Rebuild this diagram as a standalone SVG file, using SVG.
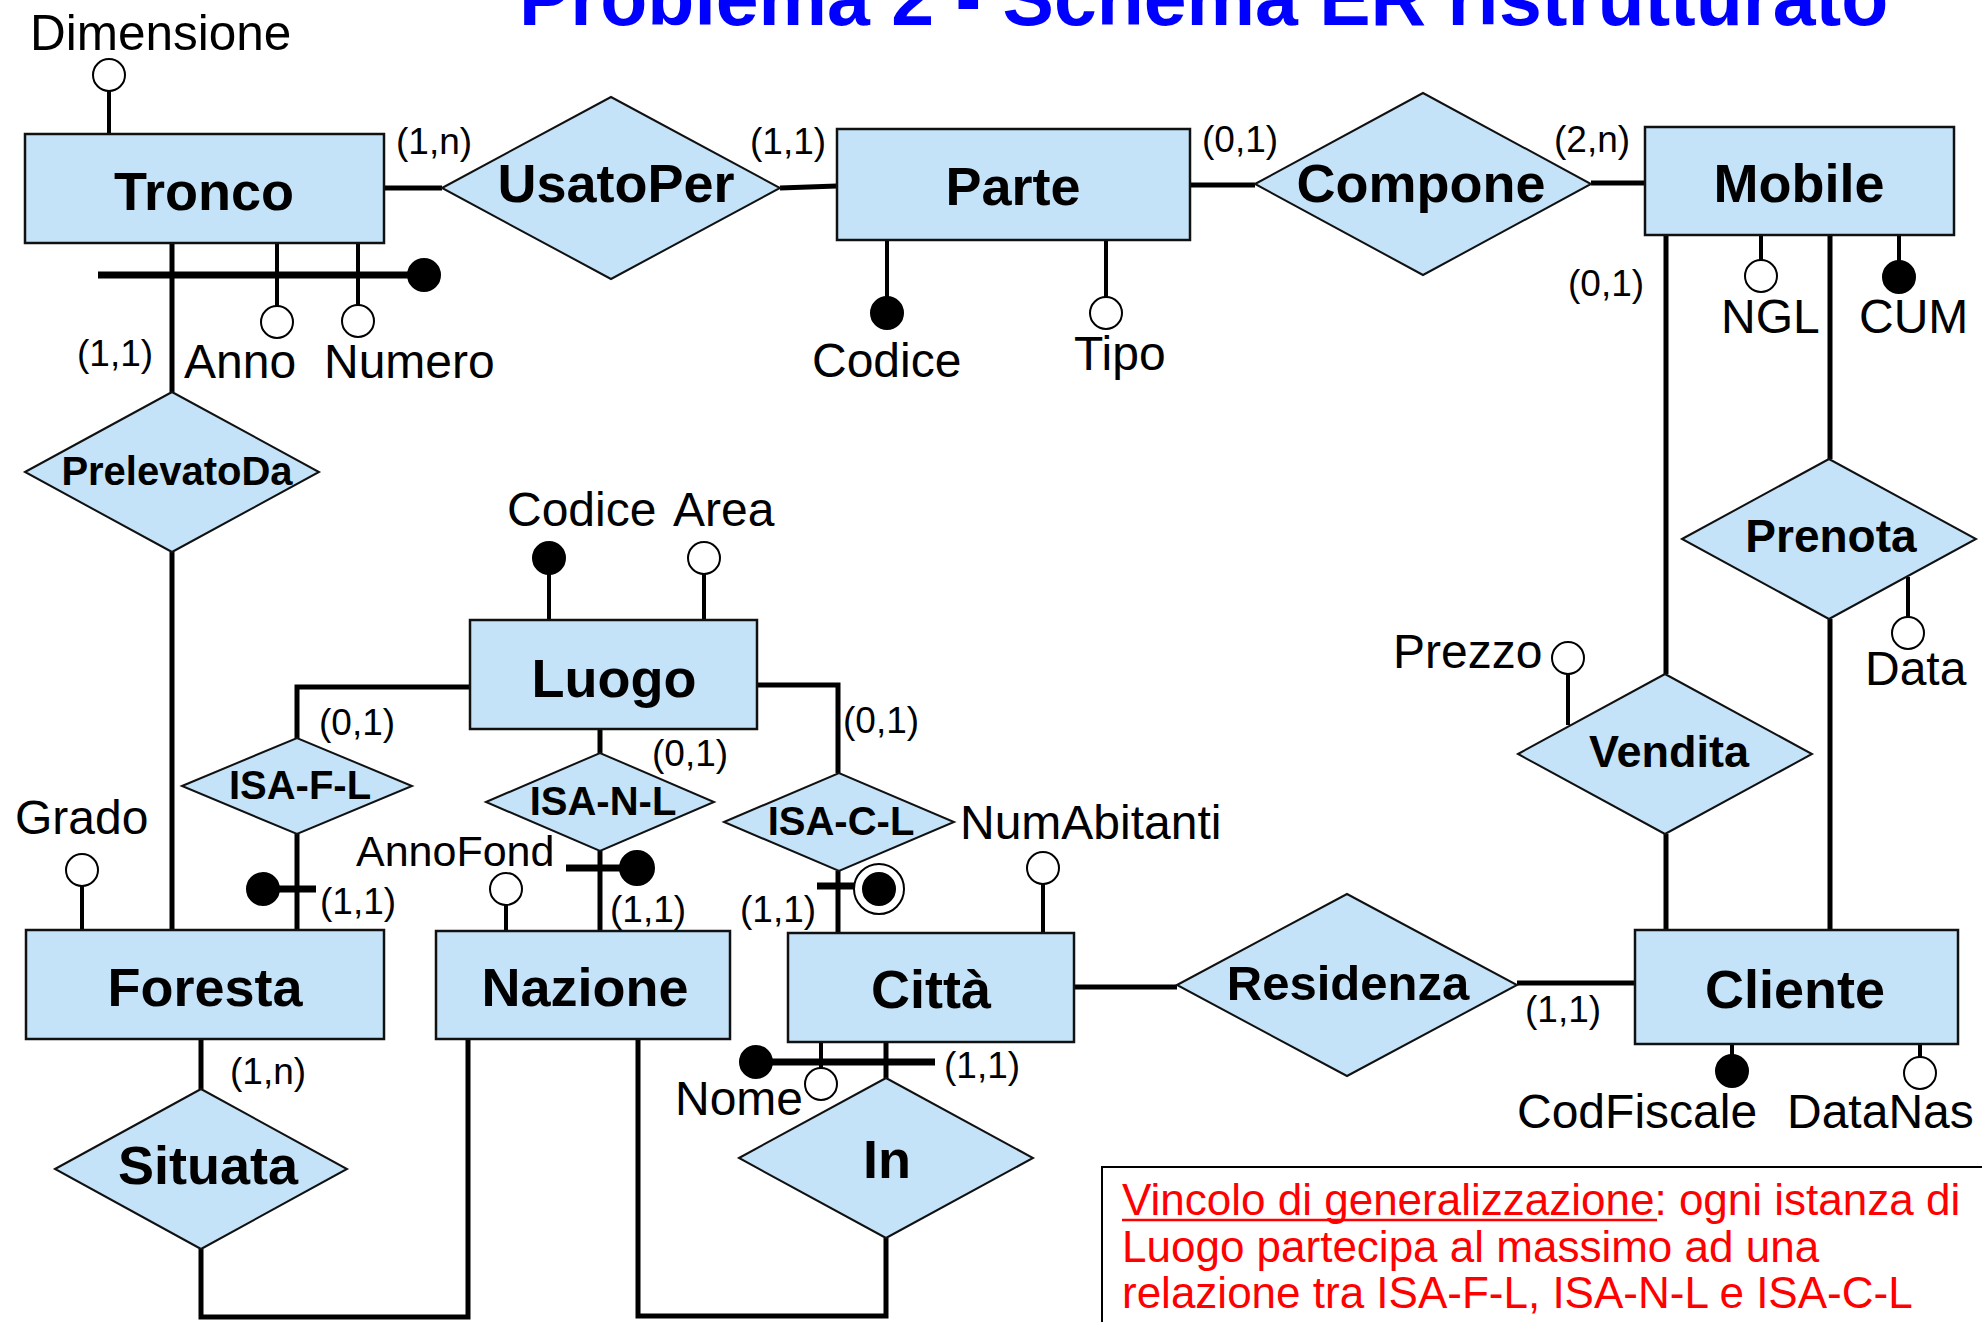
<svg xmlns="http://www.w3.org/2000/svg" width="1982" height="1322" viewBox="0 0 1982 1322">
<style>
.ent{fill:#C5E3F8;stroke:#111;stroke-width:2.5}
.rel{fill:#C5E3F8;stroke:#111;stroke-width:2}
.name{font-family:"Liberation Sans",Arial,sans-serif;font-weight:bold;font-size:54px;text-anchor:middle;fill:#000}
.att{font-family:"Liberation Sans",Arial,sans-serif;font-size:48px;fill:#000}
.card{font-family:"Liberation Sans",Arial,sans-serif;font-size:37px;fill:#000}
.ln{stroke:#000;stroke-width:5;fill:none}
.al{stroke:#000;stroke-width:4;fill:none}
.bar{stroke:#000;stroke-width:7;fill:none}
.oc{fill:#fff;stroke:#000;stroke-width:2}
.fc{fill:#000;stroke:#000;stroke-width:2}
.note{font-family:"Liberation Sans",Arial,sans-serif;font-size:44px;fill:#FF0000}
</style>
<rect width="1982" height="1322" fill="#fff"/>
<text x="519" y="25" font-family="Liberation Sans, Arial, sans-serif" font-weight="bold" font-size="77" fill="#0000FF">Problema 2 - Schema ER ristrutturato</text>

<g id="connectors">
<path class="ln" d="M383 188 H442"/>
<path class="ln" d="M780 188 L837 186"/>
<path class="ln" d="M1190 185 H1255"/>
<path class="ln" d="M1591 183 H1645"/>
<path class="ln" d="M172 243 V392"/>
<path class="ln" d="M172 552 V930"/>
<path class="ln" d="M470 687 H297 V738"/>
<path class="ln" d="M600 729 V753"/>
<path class="ln" d="M757 685 H838 V773"/>
<path class="ln" d="M297 834 V930"/>
<path class="ln" d="M600 851 V931"/>
<path class="ln" d="M838 871 V933"/>
<path class="ln" d="M201 1039 V1089"/>
<path class="ln" d="M201 1249 V1317 H468 V1039"/>
<path class="ln" d="M638 1039 V1316 H886 V1238"/>
<path class="ln" d="M886 1042 V1078"/>
<path class="ln" d="M1074 987 H1177"/>
<path class="ln" d="M1517 983 H1635"/>
<path class="ln" d="M1666 235 V674"/>
<path class="ln" d="M1666 834 V930"/>
<path class="ln" d="M1830 235 V459"/>
<path class="ln" d="M1830 619 V930"/>
</g>

<g id="attributes">
<path class="al" d="M109 91 V134"/><circle class="oc" cx="109" cy="75" r="16"/>
<path class="al" d="M277 243 V306"/><circle class="oc" cx="277" cy="322" r="16"/>
<path class="al" d="M358 243 V305"/><circle class="oc" cx="358" cy="321" r="16"/>
<path class="bar" d="M98 275 H410"/><circle class="fc" cx="424" cy="275" r="16"/>
<path class="al" d="M887 240 V297"/><circle class="fc" cx="887" cy="313" r="16"/>
<path class="al" d="M1106 240 V297"/><circle class="oc" cx="1106" cy="313" r="16"/>
<path class="al" d="M1761 235 V260"/><circle class="oc" cx="1761" cy="276" r="16"/>
<path class="al" d="M1899 235 V261"/><circle class="fc" cx="1899" cy="277" r="16"/>
<path class="al" d="M549 574 V620"/><circle class="fc" cx="549" cy="558" r="16"/>
<path class="al" d="M704 574 V620"/><circle class="oc" cx="704" cy="558" r="16"/>
<path class="al" d="M82 886 V930"/><circle class="oc" cx="82" cy="870" r="16"/>
<path class="bar" d="M263 889 H316"/><circle class="fc" cx="263" cy="889" r="16"/>
<path class="al" d="M506 905 V931"/><circle class="oc" cx="506" cy="889" r="16"/>
<path class="bar" d="M566 868 H637"/><circle class="fc" cx="637" cy="868" r="17"/>
<path class="bar" d="M817 886 H879"/><circle class="oc" cx="879" cy="889" r="25"/><circle class="fc" cx="879" cy="889" r="16"/>
<path class="al" d="M1043 884 V933"/><circle class="oc" cx="1043" cy="868" r="16"/>
<path class="bar" d="M756 1062 H935"/><circle class="fc" cx="756" cy="1062" r="16"/>
<path class="al" d="M821 1042 V1068"/><circle class="oc" cx="821" cy="1084" r="16"/>
<path class="al" d="M1732 1044 V1056"/><circle class="fc" cx="1732" cy="1071" r="16"/>
<path class="al" d="M1920 1044 V1057"/><circle class="oc" cx="1920" cy="1073" r="16"/>
<path class="al" d="M1568 674 V725"/><circle class="oc" cx="1568" cy="658" r="16"/>
<path class="al" d="M1908 577 V617"/><circle class="oc" cx="1908" cy="633" r="16"/>
</g>

<g id="Tronco"><rect class="ent" x="25" y="134" width="359" height="109"/><text class="name" x="204" y="210">Tronco</text></g>
<g id="Parte"><rect class="ent" x="837" y="129" width="353" height="111"/><text class="name" x="1013" y="205">Parte</text></g>
<g id="Mobile"><rect class="ent" x="1645" y="127" width="309" height="108"/><text class="name" x="1799" y="202">Mobile</text></g>
<g id="Luogo"><rect class="ent" x="470" y="620" width="287" height="109"/><text class="name" x="614" y="697">Luogo</text></g>
<g id="Foresta"><rect class="ent" x="26" y="930" width="358" height="109"/><text class="name" x="205" y="1006">Foresta</text></g>
<g id="Nazione"><rect class="ent" x="436" y="931" width="294" height="108"/><text class="name" x="585" y="1006">Nazione</text></g>
<g id="Citta"><rect class="ent" x="788" y="933" width="286" height="109"/><text class="name" x="931" y="1008">Città</text></g>
<g id="Cliente"><rect class="ent" x="1635" y="930" width="323" height="114"/><text class="name" x="1795" y="1008">Cliente</text></g>

<g id="UsatoPer"><polygon class="rel" points="442,188 611,97 780,188 611,279"/><text class="name" x="616" y="202">UsatoPer</text></g>
<g id="Compone"><polygon class="rel" points="1255,184 1423,93 1591,184 1423,275"/><text class="name" x="1421" y="202">Compone</text></g>
<g id="PrelevatoDa"><polygon class="rel" points="25,472 172,392 319,472 172,552"/><text class="name" x="177" y="485" style="font-size:40px">PrelevatoDa</text></g>
<g id="ISA-F-L"><polygon class="rel" points="182,786 297,738 412,786 297,834"/><text class="name" x="300" y="799" style="font-size:40px">ISA-F-L</text></g>
<g id="ISA-N-L"><polygon class="rel" points="486,802 600,753 714,802 600,851"/><text class="name" x="603" y="815" style="font-size:40px">ISA-N-L</text></g>
<g id="ISA-C-L"><polygon class="rel" points="724,822 839,773 954,822 839,871"/><text class="name" x="841" y="835" style="font-size:40px">ISA-C-L</text></g>
<g id="Situata"><polygon class="rel" points="55,1169 201,1089 347,1169 201,1249"/><text class="name" x="208" y="1184">Situata</text></g>
<g id="In"><polygon class="rel" points="739,1158 886,1078 1033,1158 886,1238"/><text class="name" x="887" y="1178">In</text></g>
<g id="Residenza"><polygon class="rel" points="1177,985 1347,894 1517,985 1347,1076"/><text class="name" x="1348" y="1000" style="font-size:49px">Residenza</text></g>
<g id="Prenota"><polygon class="rel" points="1682,539 1829,459 1976,539 1829,619"/><text class="name" x="1831" y="552" style="font-size:46px">Prenota</text></g>
<g id="Vendita"><polygon class="rel" points="1518,754 1665,674 1812,754 1665,834"/><text class="name" x="1669" y="767" style="font-size:45px">Vendita</text></g>

<g id="attribute-labels">
<text class="att" x="30" y="50" style="font-size:49.5px">Dimensione</text>
<text class="att" x="184" y="378">Anno</text>
<text class="att" x="324" y="378">Numero</text>
<text class="att" x="812" y="377">Codice</text>
<text class="att" x="1074" y="370">Tipo</text>
<text class="att" x="1721" y="333">NGL</text>
<text class="att" x="1859" y="333">CUM</text>
<text class="att" x="507" y="526">Codice</text>
<text class="att" x="673" y="526">Area</text>
<text class="att" x="15" y="834">Grado</text>
<text class="att" x="356" y="866" style="font-size:43px">AnnoFond</text>
<text class="att" x="960" y="839">NumAbitanti</text>
<text class="att" x="675" y="1115">Nome</text>
<text class="att" x="1517" y="1128">CodFiscale</text>
<text class="att" x="1787" y="1128">DataNas</text>
<text class="att" x="1393" y="668">Prezzo</text>
<text class="att" x="1865" y="685">Data</text>
</g>

<g id="cardinalities">
<text class="card" x="396" y="154">(1,n)</text>
<text class="card" x="750" y="154">(1,1)</text>
<text class="card" x="1202" y="152">(0,1)</text>
<text class="card" x="1554" y="152">(2,n)</text>
<text class="card" x="1568" y="296">(0,1)</text>
<text class="card" x="77" y="366">(1,1)</text>
<text class="card" x="319" y="735">(0,1)</text>
<text class="card" x="652" y="766">(0,1)</text>
<text class="card" x="843" y="733">(0,1)</text>
<text class="card" x="320" y="914">(1,1)</text>
<text class="card" x="610" y="922">(1,1)</text>
<text class="card" x="740" y="922">(1,1)</text>
<text class="card" x="230" y="1084">(1,n)</text>
<text class="card" x="944" y="1078">(1,1)</text>
<text class="card" x="1525" y="1022">(1,1)</text>
</g>

<g id="vincolo">
<rect x="1102" y="1167" width="900" height="200" fill="#fff" stroke="#000" stroke-width="2"/>
<text class="note" x="1122" y="1215">Vincolo di generalizzazione: ogni istanza di</text>
<path d="M1122 1220 H1657" stroke="#FF0000" stroke-width="2.5"/>
<text class="note" x="1122" y="1262">Luogo partecipa al massimo ad una</text>
<text class="note" x="1122" y="1308">relazione tra ISA-F-L, ISA-N-L e ISA-C-L</text>
</g>
</svg>
